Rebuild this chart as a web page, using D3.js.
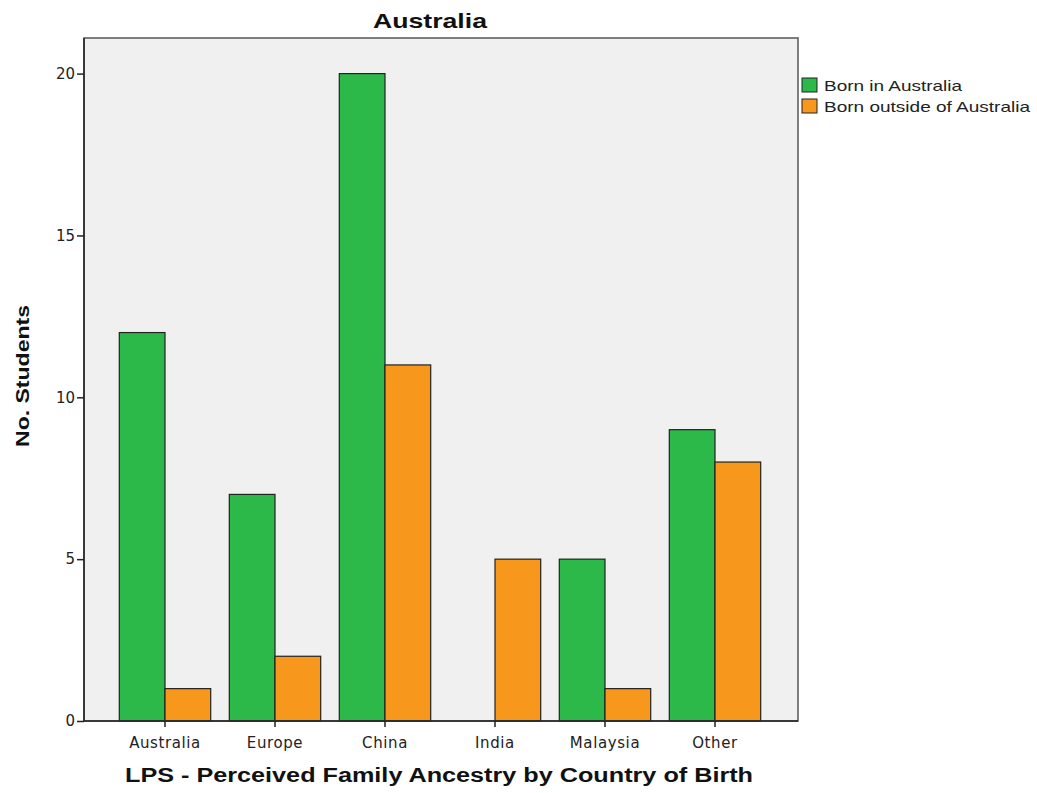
<!DOCTYPE html>
<html><head><meta charset="utf-8">
<script src="https://cdn.jsdelivr.net/npm/d3@7"></script>
<style>body{margin:0;background:#fff;} text{font-family:"Liberation Sans",Arial,sans-serif;}</style>
</head><body>
<svg id="c" width="1037" height="793"></svg>
<script>
const categories = ["Australia","Europe","China","India","Malaysia","Other"];
const seriesNames = ["Born in Australia","Born outside of Australia"];
const bornInAustralia = [12,7,20,0,5,9];
const bornOutside = [1,2,11,5,1,8];
const yTicks = [0,5,10,15,20];
const colors = ["#2db84a","#f7981d"];
const TICKFONT = "'DejaVu Sans',sans-serif";

const svg = d3.select("#c");
const L=84, R=798, T=38, B=721;
const x = d3.scaleBand().domain(categories).range([110,770]).padding(0);
const x1 = d3.scaleBand().domain(seriesNames).range([0,x.bandwidth()]).paddingInner(0).paddingOuter(0.2035);
const y = d3.scaleLinear().domain([0,21.1]).range([B,T]);

svg.append("rect").attr("x",L).attr("y",T).attr("width",R-L).attr("height",B-T).attr("fill","#f0f0f0");

const data = categories.map((c,i)=>({c, vals:[bornInAustralia[i], bornOutside[i]]}));
const g = svg.append("g");
data.forEach(d=>{
  d.vals.forEach((v,j)=>{
    if(v<=0) return;
    g.append("rect")
      .attr("x", x(d.c)+x1(seriesNames[j]))
      .attr("y", y(v))
      .attr("width", x1.bandwidth())
      .attr("height", y(0)-y(v))
      .attr("fill", colors[j])
      .attr("stroke","#222").attr("stroke-width",1.2);
  });
});

// frame
svg.append("rect").attr("x",L).attr("y",T).attr("width",R-L).attr("height",B-T)
  .attr("fill","none").attr("stroke","#555").attr("stroke-width",1.5);
svg.append("line").attr("x1",L).attr("x2",L).attr("y1",T).attr("y2",B).attr("stroke","#222").attr("stroke-width",1.5);
svg.append("line").attr("x1",L).attr("x2",R).attr("y1",B).attr("y2",B).attr("stroke","#222").attr("stroke-width",1.5);

// y axis
const ya = svg.append("g").attr("transform",`translate(${L},0)`)
  .call(d3.axisLeft(y).tickValues(yTicks).tickSize(7).tickPadding(2).tickFormat(d3.format("d")));
ya.select(".domain").remove();
ya.selectAll("line").attr("stroke","#222").attr("stroke-width",1.5);
ya.selectAll("text").attr("font-size",15).attr("fill","#222").style("font-family",TICKFONT);

// x axis
const xa = svg.append("g").attr("transform",`translate(0,${B})`)
  .call(d3.axisBottom(x).tickSize(6).tickPadding(10));
xa.select(".domain").remove();
xa.selectAll("line").attr("stroke","#222").attr("stroke-width",1.5);
xa.selectAll("text").attr("font-size",15).attr("letter-spacing",0.6).attr("fill","#222").style("font-family",TICKFONT);

// title
svg.append("text").attr("x",430).attr("y",28).attr("text-anchor","middle")
  .attr("font-size",21).attr("font-weight","bold").attr("fill","#111")
  .attr("textLength",114).attr("lengthAdjust","spacingAndGlyphs").text("Australia");
// x label
svg.append("text").attr("x",439).attr("y",782).attr("text-anchor","middle")
  .attr("font-size",20).attr("font-weight","bold").attr("fill","#111")
  .attr("textLength",628).attr("lengthAdjust","spacingAndGlyphs")
  .text("LPS - Perceived Family Ancestry by Country of Birth");
// y label
svg.append("text").attr("transform","translate(29,376) rotate(-90)").attr("text-anchor","middle")
  .attr("font-size",19).attr("font-weight","bold").attr("fill","#111")
  .attr("textLength",142).attr("lengthAdjust","spacingAndGlyphs").text("No. Students");

// legend
const legendWidths = [138, 206];
const lg = svg.append("g").attr("transform","translate(802,78)");
seriesNames.forEach((s,i)=>{
  lg.append("rect").attr("x",0).attr("y",i*21).attr("width",15).attr("height",14)
    .attr("fill",colors[i]).attr("stroke","#222").attr("stroke-width",1);
  lg.append("text").attr("x",22).attr("y",i*21+13).attr("font-size",15).attr("fill","#222")
    .attr("textLength",legendWidths[i]).attr("lengthAdjust","spacingAndGlyphs").text(s);
});
</script>
</body></html>
